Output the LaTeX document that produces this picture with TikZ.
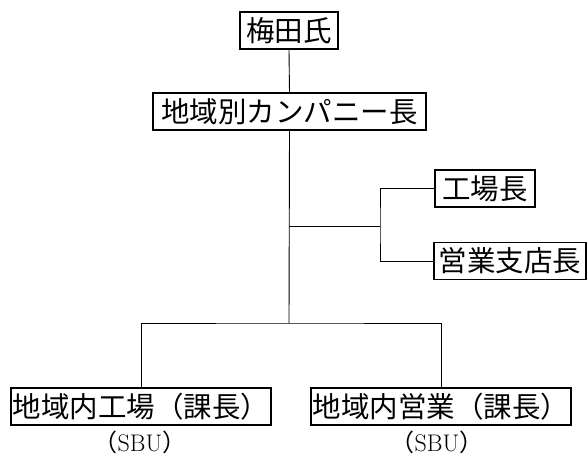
\documentclass[tikz,border=0pt]{standalone}
\usepackage{fontspec}
\newfontfamily\cjk{Noto Sans CJK JP}
\begin{document}
\begin{tikzpicture}[x=1pt,y=1pt,
  orgbox/.style={draw, line width=1.3pt, rectangle, inner sep=0pt, minimum height=37pt, font=\cjk\fontsize{28.5}{31}\selectfont},
  conn/.style={line width=0.9pt},
  sbu/.style={inner sep=0pt, font=\fontsize{24}{26}\selectfont}]
\useasboundingbox (0,0) rectangle (587,-459);
\node[orgbox, minimum width=98pt] (umeda) at (289,-30.5) {梅田氏};
\node[orgbox, minimum width=273pt] (chiiki) at (289.5,-111.5) {地域別カンパニー長};
\node[orgbox, minimum width=100pt] (kojo) at (485,-188.5) {工場長};
\node[orgbox, minimum width=152pt] (eigyo) at (510,-261) {営業支店長};
\node[orgbox, minimum width=260pt] (lb) at (141,-406.5) {地域内工場（課長）};
\node[orgbox, minimum width=260pt] (rb) at (441,-406.5) {地域内営業（課長）};
\node[sbu] (ls) at (140,-442.5) {{\cjk （}SBU{\cjk ）}};
\node[sbu] (rs) at (437,-442.5) {{\cjk （}SBU{\cjk ）}};
\coordinate (j1) at (289,-226);
\coordinate (b) at (380,-226);
\coordinate (j2) at (289,-323);
\draw[conn] (umeda.south) -- (chiiki.north);
\draw[conn] (chiiki.south) -- (j2);
\draw[conn] (j1) -- (b);
\draw[conn] (kojo.west) -| (b) |- (eigyo.west);
\draw[conn] (lb.north) |- (j2) -| (rb.north);
\end{tikzpicture}
\end{document}
